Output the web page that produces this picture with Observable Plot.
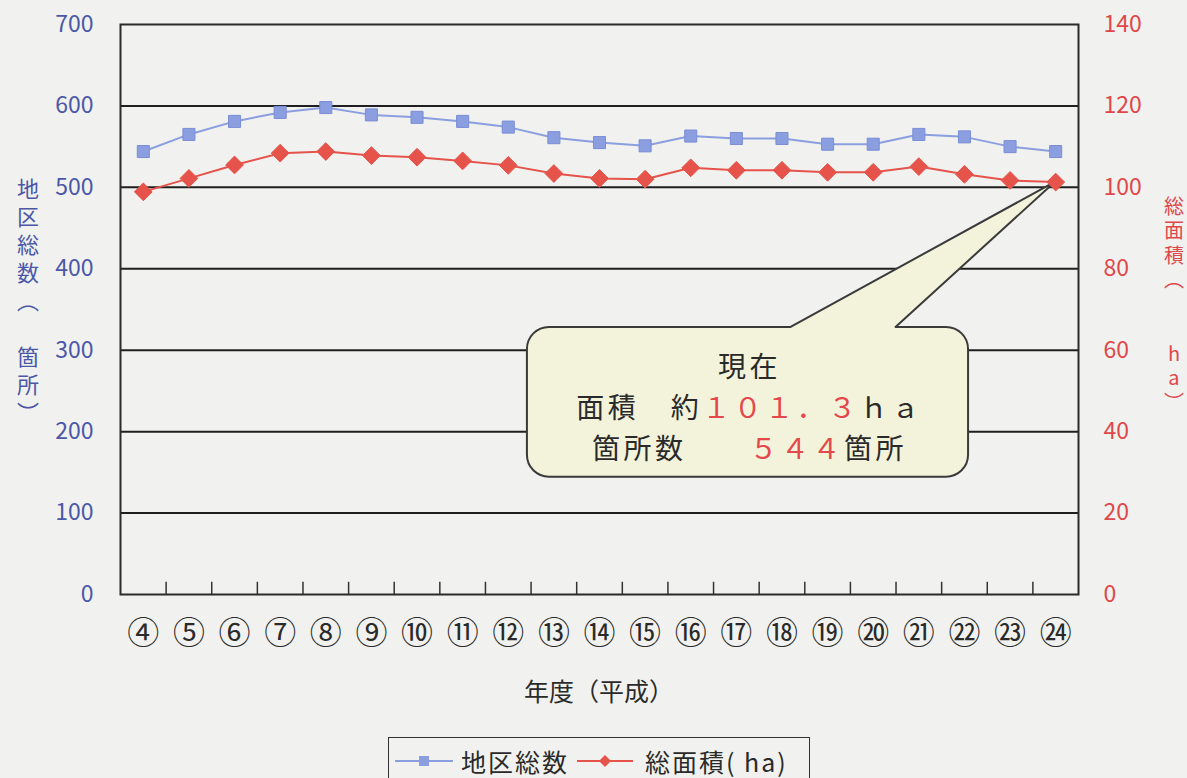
<!DOCTYPE html>
<html><head><meta charset="utf-8">
<script src="https://cdn.jsdelivr.net/npm/d3@7"></script>
<script src="https://cdn.jsdelivr.net/npm/@observablehq/plot@0.6"></script>
<style>
html,body{margin:0;padding:0;background:#f1f2ef;}
body{font-family:"Noto Sans CJK JP","Noto Sans",sans-serif;width:1187px;height:778px;overflow:hidden;}
#chart svg{display:block;}
#legend{margin-left:388px;margin-top:2px;width:422px;height:48px;box-sizing:border-box;border:1.5px solid #333;
  display:flex;align-items:center;padding-left:6px;font-size:25px;color:#2a2a2a;letter-spacing:2px;}
#legend svg{display:block;}
.vt{writing-mode:vertical-rl;text-orientation:upright;}
</style></head>
<body>
<div id="chart"></div>
<div id="legend"></div>
<script>
// ---- data ----
const years = ["④","⑤","⑥","⑦","⑧","⑨","⑩","⑪","⑫","⑬","⑭","⑮","⑯","⑰","⑱","⑲","⑳","㉑","㉒","㉓","㉔"];
const districtCounts = [544,565,581,592,598,589,586,581,574,561,555,551,563,560,560,553,553,565,562,550,544];
const totalAreaHa = [98.9,102.2,105.5,108.4,108.8,107.8,107.4,106.5,105.4,103.4,102.2,102.0,104.8,104.2,104.2,103.7,103.7,105.1,103.2,101.7,101.3];
const leftTicks = [0,100,200,300,400,500,600,700];
const rightTicks = [0,20,40,60,80,100,120,140];
const leftTitle = "地区総数（　箇所）";
const rightTitle = "総面積（　 ha）";
const xTitle = "年度（平成）";
const seriesNames = ["地区総数","総面積( ha)"];
const calloutLines = [
  [["現在","#2a2a2a"]],
  [["面積　約","#2a2a2a"],["１０１．３","#e5484b"],["ｈａ","#2a2a2a"]],
  [["箇所数　　","#2a2a2a"],["５４４","#e5484b"],["箇所","#2a2a2a"]]
];

const K = 700/140; // right axis -> left axis factor
const blue = "#8b9ee0", blueDark = "#7a8dd6", red = "#e5534b";
const blueText = "#4b57a8", redText = "#e0474a";

const data = years.map((y,i)=>({i, year:y, count:districtCounts[i], area:totalAreaHa[i]}));

function callout(index, scales, values, dims) {
  const sx = scales.x, sy = scales.y;
  const L = sx(8.42), R = sx(18.09), T = sy(328), B = sy(144), r = 22;
  const p1 = sx(14.2), p2 = sx(16.5);
  const tx = sx(20), ty = sy(totalAreaHa[20]*K);
  const g = d3.create("svg:g");
  const path = `M${L+r},${T}L${p1},${T}L${tx},${ty}L${p2},${T}L${R-r},${T}A${r},${r} 0 0 1 ${R},${T+r}L${R},${B-r}A${r},${r} 0 0 1 ${R-r},${B}L${L+r},${B}A${r},${r} 0 0 1 ${L},${B-r}L${L},${T+r}A${r},${r} 0 0 1 ${L+r},${T}Z`;
  g.append("path").attr("d", path).attr("fill","#f3f3dc").attr("stroke","#3a3a3a").attr("stroke-width",2).attr("stroke-linejoin","round");
  const cx = (L+R)/2 + 2;
  const ys = [T+38, T+79, T+120];
  calloutLines.forEach((parts, k) => {
    const t = g.append("text").attr("x", cx).attr("y", ys[k]).attr("text-anchor","middle")
      .attr("font-size", 28).attr("letter-spacing", 3.5).attr("dominant-baseline","central").attr("font-family","Noto Sans CJK JP");
    parts.forEach(([s,c]) => t.append("tspan").attr("fill", c).text(s));
  });
  return g.node();
}

const plot = Plot.plot({
  width: 1187, height: 735,
  marginLeft: 120, marginRight: 109, marginTop: 24, marginBottom: 141,
  style: {background: "transparent", fontFamily: "Noto Sans CJK JP", fontSize: "23px", overflow: "visible"},
  x: {domain: [-0.5, 20.5], axis: null},
  y: {domain: [0, 700], axis: null},
  marks: [
    Plot.ruleY(leftTicks.filter(v => v > 0 && v < 700), {stroke: "#1f1f1f", strokeWidth: 2}),
    Plot.frame({stroke: "#2b2b2b", strokeWidth: 2}),
    Plot.ruleX(d3.range(1, years.length).map(i => i - 0.5), {x: d => d, y1: 0, y2: 15, stroke: "#333", strokeWidth: 1.5}),
    Plot.axisY(leftTicks, {anchor: "left", tickSize: 0, tickPadding: 27, fill: blueText, label: null, fontSize: 23, style: {letterSpacing: "2px"}}),
    Plot.axisY(rightTicks.map(v => v*K), {anchor: "right", tickSize: 0, tickPadding: 25, tickFormat: d => String(d/K), fill: redText, label: null, fontSize: 23}),
    Plot.axisX(d3.range(years.length), {anchor: "bottom", tickSize: 0, tickPadding: 27, tickFormat: i => years[i], fill: "#2a2a2a", label: null, fontSize: 32}),
    Plot.line(data, {x: "i", y: "count", stroke: blue, strokeWidth: 2}),
    Plot.line(data, {x: "i", y: d => d.area*K, stroke: red, strokeWidth: 2}),
    callout,
    Plot.dot(data, {x: "i", y: "count", symbol: "square", r: 6.8, fill: blue, stroke: blueDark, strokeWidth: 1}),
    Plot.dot(data, {x: "i", y: d => d.area*K, symbol: "diamond2", r: 8, fill: red, stroke: red, strokeWidth: 1})
  ]
});

// vertical axis titles (vertical writing mode, single text element each)
const svg = d3.select(plot);
svg.append("text").attr("class","vt").attr("text-anchor","start").attr("x", 28).attr("y", 178).attr("font-size", 22)
  .attr("letter-spacing", 6).attr("fill", blueText).text(leftTitle);
svg.append("text").attr("class","vt").attr("text-anchor","start").attr("x", 1174).attr("y", 196).attr("font-size", 20)
  .attr("letter-spacing", 4.5).attr("fill", redText).text(rightTitle);
svg.append("text").attr("x", (120 + 1078)/2).attr("y", 690).attr("text-anchor","middle")
  .attr("dominant-baseline","central").attr("font-size",25).attr("fill","#2a2a2a").text(xTitle);

document.getElementById("chart").appendChild(plot);

// legend
const leg = d3.select("#legend");
const sw1 = leg.append("svg").attr("width",60).attr("height",20);
sw1.append("line").attr("x1",0).attr("x2",58).attr("y1",10).attr("y2",10).attr("stroke",blue).attr("stroke-width",2);
sw1.append("rect").attr("x",24).attr("y",5).attr("width",10).attr("height",10).attr("fill",blue);
leg.append("span").style("margin-left","6px").style("margin-right","8px").text(seriesNames[0]);
const sw2 = leg.append("svg").attr("width",60).attr("height",20);
sw2.append("line").attr("x1",0).attr("x2",56).attr("y1",10).attr("y2",10).attr("stroke",red).attr("stroke-width",2);
sw2.append("path").attr("d","M28,4L34,10L28,16L22,10Z").attr("fill",red);
leg.append("span").style("margin-left","8px").text(seriesNames[1]);
</script>
</body></html>
